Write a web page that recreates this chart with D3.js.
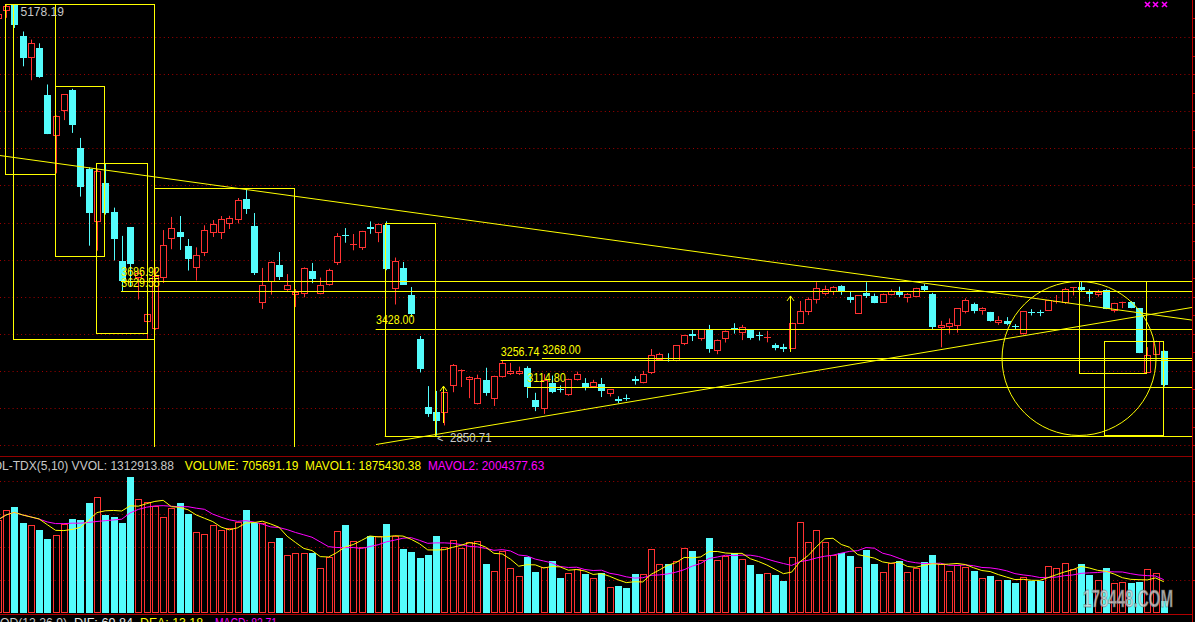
<!DOCTYPE html>
<html><head><meta charset="utf-8">
<script src="https://cdn.jsdelivr.net/npm/d3@7"></script>
<style>html,body{margin:0;padding:0;background:#000;overflow:hidden}</style>
</head><body><svg id="c" width="1195" height="622"></svg>
<script>
// ---------------- DATA ----------------
const dates = [
"2015-06-11","2015-06-12","2015-06-15","2015-06-16","2015-06-17","2015-06-18","2015-06-19","2015-06-23","2015-06-24","2015-06-25","2015-06-26","2015-06-29","2015-06-30",
"2015-07-01","2015-07-02","2015-07-03","2015-07-06","2015-07-07","2015-07-08","2015-07-09","2015-07-10","2015-07-13","2015-07-14","2015-07-15","2015-07-16","2015-07-17","2015-07-20","2015-07-21","2015-07-22","2015-07-23","2015-07-24","2015-07-27","2015-07-28","2015-07-29","2015-07-30","2015-07-31",
"2015-08-03","2015-08-04","2015-08-05","2015-08-06","2015-08-07","2015-08-10","2015-08-11","2015-08-12","2015-08-13","2015-08-14","2015-08-17","2015-08-18","2015-08-19","2015-08-20","2015-08-21","2015-08-24","2015-08-25","2015-08-26","2015-08-27","2015-08-28","2015-08-31",
"2015-09-01","2015-09-02","2015-09-07","2015-09-08","2015-09-09","2015-09-10","2015-09-11","2015-09-14","2015-09-15","2015-09-16","2015-09-17","2015-09-18","2015-09-21","2015-09-22","2015-09-23","2015-09-24","2015-09-25","2015-09-28","2015-09-29","2015-09-30",
"2015-10-08","2015-10-09","2015-10-12","2015-10-13","2015-10-14","2015-10-15","2015-10-16","2015-10-19","2015-10-20","2015-10-21","2015-10-22","2015-10-23","2015-10-26","2015-10-27","2015-10-28","2015-10-29","2015-10-30",
"2015-11-02","2015-11-03","2015-11-04","2015-11-05","2015-11-06","2015-11-09","2015-11-10","2015-11-11","2015-11-12","2015-11-13","2015-11-16","2015-11-17","2015-11-18","2015-11-19","2015-11-20","2015-11-23","2015-11-24","2015-11-25","2015-11-26","2015-11-27","2015-11-30",
"2015-12-01","2015-12-02","2015-12-03","2015-12-04","2015-12-07","2015-12-08","2015-12-09","2015-12-10","2015-12-11","2015-12-14","2015-12-15","2015-12-16","2015-12-17","2015-12-18","2015-12-21","2015-12-22","2015-12-23","2015-12-24","2015-12-25","2015-12-28","2015-12-29","2015-12-30","2015-12-31",
"2016-01-04","2016-01-05","2016-01-06","2016-01-07"];

const opens = [
5101,5143.34,5174.42,5004.04,4890.44,4942.52,4689.93,4471.61,4604,4711.76,4399.94,4289.77,4006.75,
4214.15,4058.62,3793.57,3975.21,3707,3467.4,3432.45,3707.46,3918,3950,3874,3758,3842,3950,3948,3997,4017,4124,3981,3573,3685,3769,3643,
3614,3621,3741,3620,3666,3786,3930,3880,3869,3976,3947,3986,3646,3754,3609.96,3373.48,3004.17,2980.79,2978,3125,3203,
3157,3027.68,3149,3054,3171,3190,3189,3216,3043,2998,3133,3100,3077,3157,3135,3118,3131,3083,3050,3054,
3156,3141,3193,3262,3272,3260,3352,3400,3379,3422,3310,3375,3433,3410,3421,3395,3381,
3338,3330,3325,3459,3522,3588,3622,3632,3655,3598,3512,3620,3605,3571,3617,3630,3599,3604,3659,3616,3437,
3442,3450,3525,3558,3530,3518,3462,3469,3440,3403,3515,3518,3526,3570,3569,3647,3653,3631,3614,3636,3528,3566,3570,
3536.59,3196.65,3291.19,3309.66];

const highs = [
5122,5178.19,5176.79,5029.68,4986,4966,4744,4577,4691.77,4720.7,4456,4297,4287.3,
4317,4080.13,3927.8,3976,3741,3597,3748.48,3959.19,4030,4035,3911,3866,3985,4013,4035,4036,4132,4184,4051,3755,3790,3841,3722,
3641,3758,3782,3703,3751,3943,3970,3938,3955,4006,3994,4006,3811,3787,3652,3388,3118,3092.04,3085,3237,3208,
3172,3180,3217,3174,3256.74,3243,3223,3225,3082,3182,3175,3122,3158,3196,3161,3152,3162,3102,3063,3073,
3172,3200,3318,3298,3295,3338,3393,3422,3425.5,3447.9,3369,3418,3457,3448,3423,3411,3416,
3349,3346,3459.64,3577,3596,3678,3660,3657,3662,3631,3607,3678,3617,3617,3640,3654,3620,3648,3668,3621,3470,
3483,3538,3591,3568,3543,3518,3495,3490,3452,3523,3533,3529,3583,3609,3648,3651.9,3684.57,3640,3637,3640,3567,3573,3576,
3538.69,3328.14,3362.97,3309.66];

const lows = [
5050,5103.4,5048.74,4842.11,4767,4780,4476.5,4264.77,4552,4483,4139.53,3875.05,3847.88,
4043,3795.25,3629.56,3653,3585,3373.54,3421.53,3674,3856,3852,3741,3688,3819,3922,3911,3965,3995,4046,3717,3534,3611,3690,3625,
3544,3597,3673,3613,3660,3771,3891,3850,3852,3939,3894,3743,3558,3663,3490,3191.88,2952.01,2850.71,2906,3085,3113,
3053,3019,3066,3011,3164,3178,3178,3054,2983,2968,3080,3083,3066,3148,3095,3116,3059,3062,3026,3039,
3126,3133,3183,3259,3250,3252,3339,3361,3363,3298,3290,3353,3401,3366,3368,3364,3354,
3311,3302,3325,3455,3501,3563,3607,3609,3610,3567,3508,3593,3565,3567,3607,3598,3569,3601,3629,3422,3327,
3401,3406,3510,3510,3503,3466,3448,3446,3425,3396,3499,3495,3524,3563,3561,3607,3627,3572,3600,3533,3515,3538,3538,
3295.74,3189.6,3288.93,3115.89];

const closes = [
5121.59,5166.35,5062.99,4887.43,4967.9,4785.36,4478.36,4576.49,4690.15,4527.78,4192.87,4053.03,4277.22,
4053.7,3912.77,3686.92,3775.91,3727.12,3507.19,3709.33,3877.8,3970.39,3924.49,3805.7,3823.18,3957.35,3992.11,4017.67,4026.04,4123.92,4070.91,3725.56,3663,3789.17,3705.77,3663.73,
3622.91,3756.54,3694.57,3661.54,3744.2,3928.42,3927.91,3886.32,3954.56,3965.33,3993.67,3748.16,3794.11,3664.29,3507.74,3209.91,2964.97,2927.29,3083.59,3232.35,3205.99,
3166.62,3160.17,3080.42,3170.45,3243.09,3197.89,3200.23,3114.8,3005.17,3152.26,3086.06,3097.92,3156.54,3185.62,3115.89,3142.69,3092.35,3100.76,3038.14,3052.78,
3143.36,3183.15,3287.66,3293.23,3262.44,3338.07,3391.35,3386.7,3425.33,3320.68,3368.74,3412.43,3429.58,3434.34,3375.2,3387.32,3382.56,
3325.08,3316.7,3459.64,3522.82,3590.03,3646.88,3640.49,3650.25,3632.9,3580.84,3606.96,3604.8,3568.47,3617.06,3630.5,3610.31,3616.11,3647.93,3635.55,3436.3,3445.4,
3456.31,3536.91,3584.82,3524.99,3536.93,3470.07,3472.44,3455.5,3434.58,3520.67,3510.35,3516.19,3580,3578.96,3642.47,3651.77,3636.09,3612.49,3627.91,3533.78,3563.74,3572.88,3539.18,
3296.26,3287.71,3361.84,3125];

// volume, in units of 10,000 (legend units / 10000)
const volumes = [
558,618,636,542,528,498,444,468,534,564,558,662,694,
588,574,542,818,682,664,642,574,628,660,594,486,474,528,498,508,548,618,542,538,426,450,346,
358,358,362,268,334,490,528,434,394,464,462,534,464,384,366,330,348,462,394,436,390,
426,430,294,250,372,268,220,338,246,278,312,210,238,266,234,208,238,154,162,150,
234,232,382,292,292,312,388,372,318,450,318,342,358,322,288,234,238,
228,192,334,544,426,496,426,350,358,342,274,378,294,244,302,312,244,268,306,348,292,
252,288,274,252,208,222,196,198,180,214,194,192,280,268,298,262,294,228,198,270,178,184,180,
188,262,238,70.57];

const priceTicks = [5000,4800,4600,4400,4200,4000,3800,3600,3400,3200,3000,2800];
const volumeTicks = [198,396,594,792];

// user-drawn annotations (index, price)
const hLineIdx   = [14.9, 14.9, 45.7, 65.8, 60.8, 64.0, 46.8];
const hLinePrice = [3686.92, 3629.55, 3428.00, 3268.00, 3256.74, 3114.80, 2850.71];
const hLineLabel = ["3686.92","3629.55","3428.00","3268.00","3256.74","3114.80",""];
const trendLines = [[0.27,4361,144.4,3474],[45.74,2803,144.4,3542]];
const boxes = [[0.88,5178,6.93,4261],[1.85,5178,18.9,3372],[6.93,4736,12.85,3819],[11.88,4321,18.05,3404],
               [18.9,4186,35.83,2700],[46.83,4000,52.87,2850.71],[130.75,3686.92,138.8,3189],[133.77,3361,140.9,2857]];
const circleAnn = [130.75, 3267, 9.31];
const arrows = [[53.85,3118,2919],[95.8,3604,3302]];
const legendVol = ["OL-TDX(5,10) VVOL: 1312913.88","VOLUME: 705691.19","MAVOL1: 1875430.38","MAVOL2: 2004377.63"];
const legendMacd = ["OD(12,26,9)","DIF: 69.84","DEA: 13.18","MACD: 82.71"];

// ---------------- DRAW ----------------
const W = 1195, H = 622, RIGHT = 1192;
const RED = "#ff3232", CYAN = "#54fcfc", YEL = "#ffff00", MAG = "#ff00ff", GRID = "#a00000";
const FONT = "'Liberation Sans', Arial, sans-serif";
const svg = d3.select("#c");
svg.append("rect").attr("width", W).attr("height", H).attr("fill", "#000");

const step = 8.27;
const x = d3.scaleBand().domain(dates).range([-2.27 - step/2, -2.27 - step/2 + dates.length*step]).padding(0);
const cx = i => x(dates[i]) + x.bandwidth()/2;
const xi = d3.scaleLinear().domain([0, dates.length - 1]).range([cx(0), cx(dates.length - 1)]);
const y = d3.scaleLinear().domain([2800, 5000]).range([445.1, 37]);
const vy = d3.scaleLinear().domain([0, 792]).range([613, 481]);
const px = v => Math.round(v) + 0.5;

const defs = svg.append("defs");
defs.append("clipPath").attr("id", "pc").append("rect").attr("x", 0).attr("y", 0).attr("width", RIGHT).attr("height", 447);
defs.append("clipPath").attr("id", "vc").append("rect").attr("x", 0).attr("y", 472).attr("width", RIGHT).attr("height", 142);

// grids
const grid = svg.append("g").attr("stroke", GRID).attr("stroke-dasharray", "1,3.2");
priceTicks.forEach(t => grid.append("line").attr("x1", 0).attr("x2", RIGHT).attr("y1", px(y(t))).attr("y2", px(y(t))));
volumeTicks.forEach(t => grid.append("line").attr("x1", 0).attr("x2", RIGHT).attr("y1", px(vy(t))).attr("y2", px(vy(t))));

// separators and right axis
svg.append("line").attr("x1", 0).attr("x2", RIGHT).attr("y1", 456.5).attr("y2", 456.5).attr("stroke", "#900000");
svg.append("line").attr("x1", 0).attr("x2", RIGHT).attr("y1", 614.5).attr("y2", 614.5).attr("stroke", "#b00000");
svg.append("line").attr("x1", RIGHT + 0.5).attr("x2", RIGHT + 0.5).attr("y1", 0).attr("y2", H).attr("stroke", "#c00000");
const ax = svg.append("g").attr("stroke", "#c00000");
d3.range(2800, 5101, 100).forEach(p => ax.append("line").attr("x1", RIGHT).attr("x2", W).attr("y1", px(y(p))).attr("y2", px(y(p))));
volumeTicks.forEach(t => ax.append("line").attr("x1", RIGHT).attr("x2", W).attr("y1", px(vy(t))).attr("y2", px(vy(t))));

// candles
const cg = svg.append("g").attr("clip-path", "url(#pc)");
dates.forEach((d, i) => {
  const o = opens[i], c = closes[i], h = highs[i], l = lows[i];
  const up = c >= o, col = up ? RED : CYAN;
  const xc = Math.round(cx(i));
  const t = Math.round(y(Math.max(o, c))), b = Math.round(y(Math.min(o, c)));
  const yh = y(h), yl = y(l);
  if (b - t < 2) {
    cg.append("line").attr("x1", xc + 0.5).attr("x2", xc + 0.5).attr("y1", yh).attr("y2", yl).attr("stroke", col);
    cg.append("rect").attr("x", xc - 3).attr("y", t).attr("width", 7).attr("height", Math.max(1, b - t)).attr("fill", col);
  } else if (up) {
    cg.append("line").attr("x1", xc + 0.5).attr("x2", xc + 0.5).attr("y1", yh).attr("y2", t + 0.5).attr("stroke", col);
    cg.append("line").attr("x1", xc + 0.5).attr("x2", xc + 0.5).attr("y1", b + 0.5).attr("y2", yl).attr("stroke", col);
    cg.append("rect").attr("x", xc - 2.5).attr("y", t + 0.5).attr("width", 6).attr("height", b - t)
      .attr("fill", "#000").attr("stroke", col);
  } else {
    cg.append("line").attr("x1", xc + 0.5).attr("x2", xc + 0.5).attr("y1", yh).attr("y2", yl).attr("stroke", col);
    cg.append("rect").attr("x", xc - 3).attr("y", t).attr("width", 7).attr("height", b - t).attr("fill", col);
  }
});

// volume bars
const vg = svg.append("g").attr("clip-path", "url(#vc)");
dates.forEach((d, i) => {
  const up = closes[i] >= opens[i];
  const xc = Math.round(cx(i));
  const top = Math.round(vy(volumes[i]));
  if (up) vg.append("rect").attr("x", xc - 2.5).attr("y", top + 0.5).attr("width", 6).attr("height", 612 - top)
            .attr("fill", "none").attr("stroke", RED);
  else vg.append("rect").attr("x", xc - 3).attr("y", top).attr("width", 7).attr("height", 613 - top).attr("fill", CYAN);
});
function ma(n) {
  return volumes.map((v, i) => d3.mean(volumes.slice(Math.max(0, i - n + 1), i + 1)));
}
const ma5 = ma(5), ma10 = ma(10);
const vline = d3.line().x((v, i) => cx(i)).y(v => vy(v));
vg.append("path").attr("d", vline(ma10)).attr("fill", "none").attr("stroke", MAG).attr("stroke-width", 1);
vg.append("path").attr("d", vline(ma5)).attr("fill", "none").attr("stroke", YEL).attr("stroke-width", 1);

// annotations
const ag = svg.append("g").attr("clip-path", "url(#pc)").attr("stroke", YEL).attr("fill", "none");
hLinePrice.forEach((p, k) => {
  ag.append("line").attr("x1", xi(hLineIdx[k])).attr("x2", RIGHT).attr("y1", px(y(p))).attr("y2", px(y(p)));
});
trendLines.forEach(t => ag.append("line").attr("x1", xi(t[0])).attr("y1", y(t[1])).attr("x2", xi(t[2])).attr("y2", y(t[3])));
boxes.forEach(b => {
  const x1 = px(xi(b[0])), x2 = px(xi(b[2])), y1 = px(y(b[1])), y2 = px(y(b[3]));
  ag.append("rect").attr("x", x1).attr("y", y1).attr("width", x2 - x1).attr("height", y2 - y1);
});
{
  const r = xi(circleAnn[2]) - xi(0);
  ag.append("circle").attr("cx", xi(circleAnn[0])).attr("cy", y(circleAnn[1])).attr("r", r);
}
arrows.forEach(a => {
  const ax0 = px(xi(a[0])), yt = y(a[1]), yb = y(a[2]);
  ag.append("line").attr("x1", ax0).attr("x2", ax0).attr("y1", yt).attr("y2", yb);
  ag.append("path").attr("d", `M${ax0 - 3.5},${yt + 5}L${ax0},${yt}L${ax0 + 3.5},${yt + 5}`);
});

// labels
const lg = svg.append("g").attr("font-family", FONT).attr("font-size", 13);
hLinePrice.forEach((p, k) => {
  if (!hLineLabel[k]) return;
  lg.append("text").attr("x", xi(hLineIdx[k]) + 0.3).attr("y", y(p) - 4.7).attr("fill", YEL)
    .attr("textLength", 38.5).attr("lengthAdjust", "spacingAndGlyphs").text(hLineLabel[k]);
});
// max / min markers
const iMax = highs.indexOf(d3.max(highs)), iMin = lows.indexOf(d3.min(lows));
lg.append("text").attr("x", cx(iMax + 1) + 6.2).attr("y", y(highs[iMax]) + 12).attr("fill", "#c8c8c8")
  .attr("textLength", 43.5).attr("lengthAdjust", "spacingAndGlyphs").text(d3.format(".2f")(highs[iMax]));
lg.append("text").attr("x", cx(iMin) + 1).attr("y", y(lows[iMin]) + 6.5).attr("fill", "#c8c8c8").attr("font-size", 11).text("<");
lg.append("text").attr("x", cx(iMin) + 14).attr("y", y(lows[iMin]) + 6.8).attr("fill", "#c8c8c8")
  .attr("textLength", 41.5).attr("lengthAdjust", "spacingAndGlyphs").text(d3.format(".2f")(lows[iMin]));

// magenta marks top-right
[1147.5, 1155.5, 1164.5].forEach(xx => {
  svg.append("path").attr("d", `M${xx - 2.5},${2}L${xx + 2.5},${7}M${xx + 2.5},${2}L${xx - 2.5},${7}`)
    .attr("stroke", MAG).attr("stroke-width", 1.6);
});

// legends
const leg = svg.append("g").attr("font-family", FONT).attr("font-size", 12);
const legX = [-7.3, 184.8, 305, 428], legW = [181.3, 113.7, 116, 116.3], legC = ["#c8c8c8", YEL, YEL, MAG];
legendVol.forEach((s, k) => leg.append("text").attr("x", legX[k]).attr("y", 470).attr("fill", legC[k])
  .attr("textLength", legW[k]).attr("lengthAdjust", "spacingAndGlyphs").text(s));
const mX = [0, 74, 140, 215], mW = [67, 59, 63, 62], mC = ["#c8c8c8", "#e8e8e8", YEL, MAG];
legendMacd.forEach((s, k) => leg.append("text").attr("x", mX[k]).attr("y", 626.5).attr("fill", mC[k])
  .attr("textLength", mW[k]).attr("lengthAdjust", "spacingAndGlyphs").text(s));

// watermark
svg.append("text").attr("x", 1083).attr("y", 607).attr("font-family", FONT).attr("font-size", 24).attr("font-weight", "bold")
  .attr("fill", "rgba(215,215,215,0.8)").attr("stroke", "rgba(90,90,90,0.5)").attr("stroke-width", 1)
  .attr("textLength", 90).attr("lengthAdjust", "spacingAndGlyphs").text("178448.COM");
</script></body></html>
